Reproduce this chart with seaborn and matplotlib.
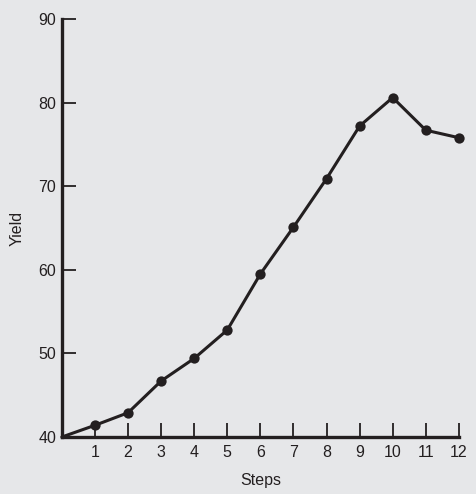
import matplotlib
matplotlib.use("Agg")
import matplotlib.pyplot as plt
import seaborn as sns
import pandas as pd

steps = [0, 1, 2, 3, 4, 5, 6, 7, 8, 9, 10, 11, 12]
yields = [40.0, 41.4, 42.9, 46.7, 49.4, 52.8, 59.5, 65.1, 70.9, 77.2, 80.6, 76.7, 75.8]
x_ticks = [1, 2, 3, 4, 5, 6, 7, 8, 9, 10, 11, 12]
y_ticks = [40, 50, 60, 70, 80, 90]

df = pd.DataFrame({"Steps": steps, "Yield": yields})
pts = df[df["Steps"] > 0]

sns.set_theme(style="ticks")
plt.rcParams['font.family'] = ['Liberation Sans', 'DejaVu Sans']
bg = "#e6e7e9"
ink = "#231f20"

fig = plt.figure(figsize=(4.76, 4.94), dpi=100, facecolor=bg)
ax = fig.add_axes([0.130, 0.1154, 0.834, 0.8461], facecolor=bg)

sns.lineplot(data=df, x="Steps", y="Yield", ax=ax, color=ink, linewidth=2.2, sort=True)
sns.scatterplot(data=pts, x="Steps", y="Yield", ax=ax, color=ink, s=55, edgecolor=ink,
                linewidth=0, zorder=5, clip_on=False)
for ln in ax.lines:
    ln.set_clip_on(False)

ax.set_xlim(0, 12)
ax.set_ylim(40, 90)
ax.set_xticks(x_ticks)
ax.set_yticks(y_ticks)
ax.tick_params(axis="both", direction="in", length=10, width=1.3, color=ink,
               labelsize=11.5, labelcolor=ink)
ax.tick_params(axis="y", pad=4)
ax.tick_params(axis="x", pad=6)
for s in ["top", "right"]:
    ax.spines[s].set_visible(False)
for s in ["left", "bottom"]:
    ax.spines[s].set_linewidth(2.4)
    ax.spines[s].set_color(ink)
ax.set_xlabel("Steps", fontsize=11.5, color=ink, labelpad=9)
ax.set_ylabel("Yield", fontsize=11.5, color=ink, labelpad=10)

fig.savefig("out.png", dpi=100, facecolor=bg)
